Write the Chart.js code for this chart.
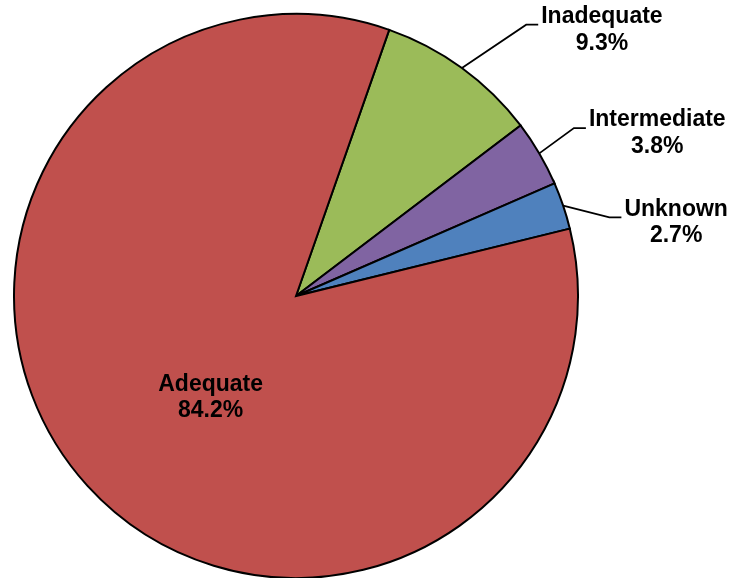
<!DOCTYPE html>
<html>
<head>
<meta charset="utf-8">
<script src="https://cdn.jsdelivr.net/npm/chart.js@4.4.1/dist/chart.umd.min.js"></script>
<style>
  html, body { margin: 0; padding: 0; background: #fff; }
  #wrap { position: relative; width: 732px; height: 578px; }
</style>
</head>
<body>
<div id="wrap"><canvas id="pie"></canvas></div>
<script>
// slices in clockwise order, starting from the Adequate/Inadequate boundary
const categories = ["Inadequate", "Intermediate", "Unknown", "Adequate"];
const shares = [9.3, 3.8, 2.7, 84.2];
const sliceColors = ["#9BBB59", "#8064A2", "#4F81BD", "#C0504D"];

// where each label block sits, relative to the slice's anchor point
// (outer edge at mid-angle for outside labels, arc centroid for the inside one)
const LABEL_PLACES = [
  { outside: true, dx: 140, dy: -38 },
  { outside: true, dx: 118, dy: -20 },
  { outside: true, dx: 113, dy: 17 },
  { outside: false, dx: 19, dy: 7 },
];
const FONT = "bold 23px 'Liberation Sans', Arial, sans-serif";
const LINE_GAP = 26.5;

const pieLabels = {
  id: "pieLabels",
  afterDatasetsDraw(chart) {
    const ctx = chart.ctx;
    const arcs = chart.getDatasetMeta(0).data;
    ctx.save();
    ctx.font = FONT;
    ctx.fillStyle = "#000";
    ctx.strokeStyle = "#000";
    ctx.lineWidth = 1.8;
    ctx.textAlign = "center";
    ctx.textBaseline = "middle";
    arcs.forEach((arc, i) => {
      const place = LABEL_PLACES[i];
      const mid = (arc.startAngle + arc.endAngle) / 2;
      let ax, ay;
      if (place.outside) {
        ax = arc.x + Math.cos(mid) * arc.outerRadius;
        ay = arc.y + Math.sin(mid) * arc.outerRadius;
      } else {
        const p = arc.tooltipPosition();
        ax = p.x;
        ay = p.y;
      }
      const cx = ax + place.dx;
      const cy = ay + place.dy;
      const line1 = categories[i];
      const line2 = shares[i].toFixed(1) + "%";
      const y1 = cy - LINE_GAP / 2;
      const y2 = cy + LINE_GAP / 2;
      if (place.outside) {
        const w = Math.max(ctx.measureText(line1).width, ctx.measureText(line2).width);
        const endX = cx - w / 2 - 3;
        const endY = y1 + 8;
        ctx.beginPath();
        ctx.moveTo(ax, ay);
        ctx.lineTo(endX - 12, endY);
        ctx.lineTo(endX, endY);
        ctx.stroke();
      }
      ctx.fillText(line1, cx, y1);
      ctx.fillText(line2, cx, y2);
    });
    ctx.restore();
  },
};

new Chart(document.getElementById("pie"), {
  type: "pie",
  data: {
    labels: categories,
    datasets: [{
      data: shares,
      backgroundColor: sliceColors,
      borderColor: "#000",
      borderWidth: 2,
      borderJoinStyle: "miter",
    }],
  },
  options: {
    responsive: true,
    maintainAspectRatio: false,
    animation: false,
    rotation: 19.3,
    radius: 282,
    layout: { padding: { left: 14, right: 154, top: 14, bottom: 0 } },
    plugins: {
      legend: { display: false },
      tooltip: { enabled: false },
    },
  },
  plugins: [pieLabels],
});
</script>
</body>
</html>
